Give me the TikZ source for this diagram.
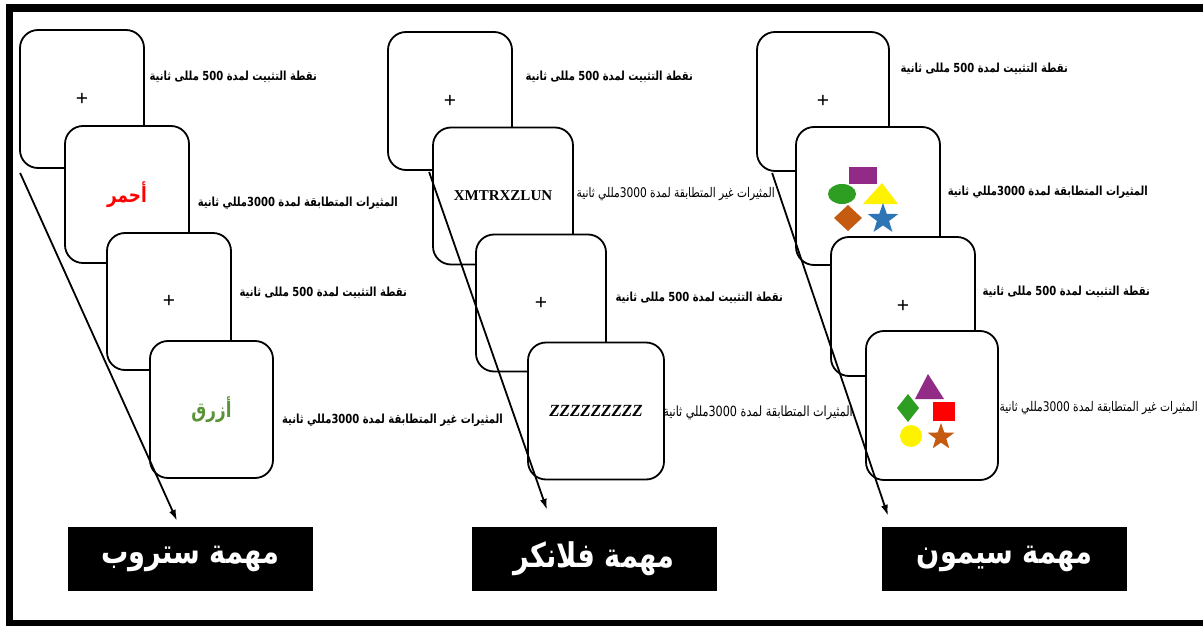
\documentclass[tikz,border=0pt]{standalone}
\usepackage{fontspec}
\usepackage{graphicx}
\setmainfont{Liberation Sans}
\newfontfamily\arabe[Script=Arabic]{DejaVu Sans}
\newfontfamily\romain{Liberation Serif}
\usetikzlibrary{shapes.geometric,arrows.meta}
\TeXXeTstate=1
\definecolor{violet}{HTML}{922B86}
\definecolor{vert}{HTML}{2E9E23}
\definecolor{orange}{HTML}{C55A11}
\definecolor{bleu}{HTML}{2E75B6}
\definecolor{vertmot}{HTML}{5A9237}
% Textes des consignes
\newcommand{\Etroit}[1]{\scalebox{0.8}[1]{#1}}
\newcommand{\TxtFix}{\Etroit{\beginR نقطة التثبيت لمدة \beginL 500\endL{} مللى ثانية\endR}}
\newcommand{\TxtCong}{\Etroit{\beginR المثيرات المتطابقة لمدة \beginL3000\endL مللي ثانية\endR}}
\newcommand{\TxtIncong}{\Etroit{\beginR المثيرات غير المتطابقة لمدة \beginL3000\endL مللي ثانية\endR}}
\begin{document}
\begin{tikzpicture}[x=1pt,y=-1pt]
		% Styles (A AJUSTER)
		\tikzstyle{carte}=[draw,fill=white,line width=1.8pt,rounded corners=18pt,minimum height=137pt,inner sep=0pt,font=\fontsize{21}{23}\selectfont]
		\tikzstyle{consigne}=[anchor=east,inner sep=0pt,font=\arabe\bfseries\fontsize{12.5}{14}\selectfont]
		\tikzstyle{petite}=[anchor=east,inner sep=0pt,font=\arabe\fontsize{13.3}{15}\selectfont]
		\tikzstyle{fleche}=[-{Latex[length=11pt,width=7pt]},line width=1.8pt]
		\tikzstyle{titre}=[fill=black,text=white,minimum width=245pt,minimum height=64pt,font=\arabe\bfseries\fontsize{34}{38}\selectfont]
		\tikzstyle{forme}=[inner sep=0pt]
		
		\useasboundingbox (0,0) rectangle (1203,626);
		% Cadre
		\fill (6,4) rectangle (13,626);
		\fill (6,4) rectangle (1203,12);
		\fill (6,620) rectangle (1203,626);
		
		% Cartes : Stroop
		\node[carte,minimum width=124pt,minimum height=138pt] (S1) at (82,99) {+};
		\node[carte,minimum width=124pt,text=red,font=\arabe\bfseries\fontsize{21}{23}\selectfont] (S2) at (127,194.5) {\Etroit{\beginR أحمر\endR}};
		\node[carte,minimum width=124pt] (S3) at (169,301.5) {+};
		\node[carte,minimum width=123pt,text=vertmot,font=\arabe\bfseries\fontsize{21}{23}\selectfont] (S4) at (211.5,409.5) {\Etroit{\beginR أزرق\endR}};
		
		% Cartes : Flanker
		\node[carte,minimum width=124pt,minimum height=138pt] (F1) at (450,101) {+};
		\node[carte,minimum width=140pt,font=\romain\bfseries\fontsize{15}{17}\selectfont] (F2) at (503,196) {XMTRXZLUN};
		\node[carte,minimum width=130pt] (F3) at (541,303) {+};
		\node[carte,minimum width=136pt,font=\romain\bfseries\itshape\fontsize{17}{19}\selectfont] (F4) at (596,411) {ZZZZZZZZZ};
		
		% Cartes : Simon
		\node[carte,minimum width=132pt,minimum height=139pt] (M1) at (823,101.5) {+};
		\node[carte,minimum width=144pt,minimum height=138pt] (M2) at (868,196) {};
		\begin{scope}[shift={(M2.center)}]
			\fill[violet] (-19,-29) rectangle (9,-12);
			\fill[vert] (-26,-2) ellipse [x radius=14,y radius=10];
			\fill[yellow] (-5,8) -- (30,8) -- (14,-13) -- cycle;
			\fill[orange] (-34,22) -- (-20,9) -- (-6,22) -- (-20,35) -- cycle;
			\node[forme,star,star points=5,star point ratio=2.5,fill=bleu,minimum size=32pt] at (15,23) {};
		\end{scope}
		\node[carte,minimum width=144pt,minimum height=139pt] (M3) at (903,306.5) {+};
		\node[carte,minimum width=132pt,minimum height=149pt] (M4) at (932,405.5) {};
		\begin{scope}[shift={(M4.center)}]
			\fill[violet] (-17,-6.5) -- (12,-6.5) -- (-4,-31.5) -- cycle;
			\fill[vert] (-35,2.5) -- (-24,-11.5) -- (-13,2.5) -- (-24,16.5) -- cycle;
			\fill[red] (1,-3.5) rectangle (23,15.5);
			\fill[yellow] (-21,30.5) circle [radius=11];
			\node[forme,star,star points=5,star point ratio=2.5,fill=orange,minimum size=28pt] at (9,31.5) {};
		\end{scope}
		
		% Consignes
		\node[consigne] (cS1) at (317,77) {\TxtFix};
		\node[consigne] (cS2) at (398,203) {\TxtCong};
		\node[consigne] (cS3) at (407,293) {\TxtFix};
		\node[consigne] (cS4) at (503,420) {\TxtIncong};
		\node[consigne] (cF1) at (693,77) {\TxtFix};
		\node[petite] (cF2) at (775,194) {\TxtIncong};
		\node[consigne] (cF3) at (783,298) {\TxtFix};
		\node[petite,font=\arabe\fontsize{14}{16}\selectfont] (cF4) at (853,413) {\TxtCong};
		\node[consigne] (cM1) at (1068,69) {\TxtFix};
		\node[consigne] (cM2) at (1148,192) {\TxtCong};
		\node[consigne] (cM3) at (1150,292) {\TxtFix};
		\node[petite] (cM4) at (1198,408) {\TxtIncong};
		
		% Titres
		\node[titre] (T1) at (190.5,559) {\Etroit{\beginR مهمة ستروب\endR}};
		\node[titre] (T2) at (594,559) {\Etroit{\beginR مهمة فلانكر\endR}};
		\node[titre] (T3) at (1004.5,559) {\Etroit{\beginR مهمة سيمون\endR}};
		
		% Fleches
		\draw[fleche] ([xshift=1pt,yshift=-4pt]S1.south west) -- ([xshift=-13.5pt,yshift=6pt]T1.north);
		\draw[fleche] ([xshift=42pt,yshift=-1pt]F1.south west) -- ([xshift=-47pt,yshift=17pt]T2.north);
		\draw[fleche] ([xshift=16pt,yshift=-1pt]M1.south west) -- ([xshift=-116.5pt,yshift=11pt]T3.north);
		
\end{tikzpicture}
\end{document}
